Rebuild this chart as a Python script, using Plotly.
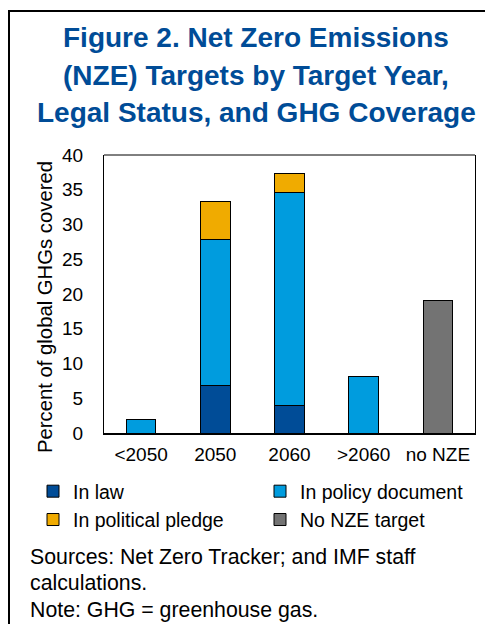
import plotly.graph_objects as go

categories = ["<2050", "2050", "2060", ">2060", "no NZE"]
in_law = [None, 6.9, 3.9, None, None]
in_policy = [1.9, 20.9, 30.7, 8.1, None]
in_pledge = [None, 5.5, 2.8, None, None]
no_nze = [None, None, None, None, 19.1]

title_lines = ["Figure 2. Net Zero Emissions", "(NZE) Targets by Target Year,", "Legal Status, and GHG Coverage"]
y_title = "Percent of global GHGs covered"
note_lines = ["Sources: Net Zero Tracker; and IMF staff", "calculations.", "Note: GHG = greenhouse gas."]

FONT = "Liberation Sans, Arial, sans-serif"
O = 8  # page body margin
W, H = 493 - O, 624 - O
L, R, T, B = 104 - O, 475 - O, 155 - O, 433 - O

def px(x):
    return (x - O - L) / (R - L)

def py(y):
    return (B - (y - O)) / (B - T)

fig = go.Figure()
series = [
    ("In law", in_law, "#004C97"),
    ("In policy document", in_policy, "#009CDE"),
    ("In political pledge", in_pledge, "#F0AB00"),
    ("No NZE target", no_nze, "#737373"),
]
for name, vals, col in series:
    fig.add_trace(go.Bar(x=categories, y=vals, name=name,
                         marker=dict(color=col, line=dict(color="black", width=1))))

fig.update_layout(
    width=W, height=H,
    margin=dict(l=L, r=W - R, t=T, b=H - B),
    barmode="stack", bargap=0.6,
    plot_bgcolor="white", paper_bgcolor="white",
    font=dict(family=FONT, color="black", size=19),
    showlegend=True,
    legend=dict(orientation="h", x=px(33), y=py(472), xanchor="left", yanchor="top",
                entrywidth=182, entrywidthmode="pixels", itemwidth=30,
                font=dict(size=19.5), traceorder="normal", tracegroupgap=0),
)
fig.update_xaxes(showline=True, linecolor="black", linewidth=2, ticks="",
                 showgrid=False, tickfont=dict(size=19), ticklabelstandoff=3)
fig.update_yaxes(range=[0, 40], dtick=5, showline=True, linecolor="black", linewidth=1,
                 mirror=True, ticks="", showgrid=False, zeroline=False,
                 tickfont=dict(size=19), ticklabelstandoff=16)

# top border of plot area
fig.add_shape(type="line", xref="paper", yref="paper", x0=0, x1=1, y0=1, y1=1,
              line=dict(color="black", width=1))
# outer frame
fig.add_shape(type="rect", xref="paper", yref="paper", x0=px(9), x1=px(520), y0=py(11), y1=py(660),
              line=dict(color="black", width=2), layer="below")

ys = [38, 75, 112]
for t, y in zip(title_lines, ys):
    fig.add_annotation(text="<b>" + t + "</b>", xref="paper", yref="paper", x=px(256), y=py(y),
                       xanchor="center", yanchor="middle", showarrow=False,
                       font=dict(size=28, color="#004C97", family=FONT))

fig.add_annotation(text=y_title, xref="paper", yref="paper", x=px(45), y=py(307), textangle=-90,
                   xanchor="center", yanchor="middle", showarrow=False, font=dict(size=20.3))

for t, y in zip(note_lines, [557, 583, 610]):
    fig.add_annotation(text=t, xref="paper", yref="paper", x=px(28), y=py(y), xanchor="left",
                       yanchor="middle", align="left", showarrow=False, font=dict(size=21.3))

fig.write_html("out.html")
